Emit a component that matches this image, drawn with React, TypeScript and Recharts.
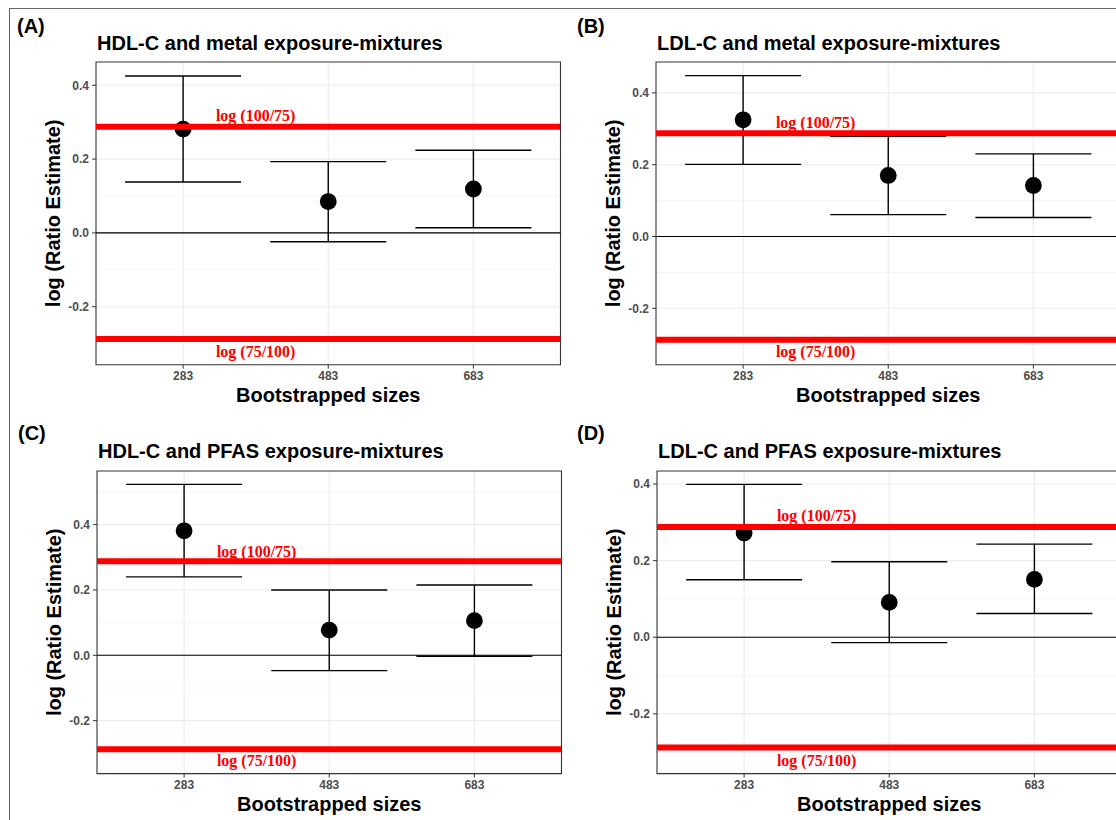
import React from 'react';
import {
  ComposedChart,
  Scatter,
  ErrorBar,
  XAxis,
  YAxis,
  CartesianGrid,
  ReferenceLine,
  ReferenceArea,
  ReferenceDot,
} from 'recharts';

// bootstrapped sample sizes (x categories)
const SIZES = ['283', '483', '683'];

// (A) HDL-C and metal exposure-mixtures
const A_EST = [0.281, 0.085, 0.119];
const A_LO = [0.138, -0.024, 0.014];
const A_HI = [0.425, 0.193, 0.224];

// (B) LDL-C and metal exposure-mixtures
const B_EST = [0.325, 0.17, 0.142];
const B_LO = [0.201, 0.061, 0.053];
const B_HI = [0.448, 0.279, 0.23];

// (C) HDL-C and PFAS exposure-mixtures
const C_EST = [0.381, 0.077, 0.106];
const C_LO = [0.24, -0.047, -0.003];
const C_HI = [0.523, 0.2, 0.215];

// (D) LDL-C and PFAS exposure-mixtures
const D_EST = [0.272, 0.091, 0.151];
const D_LO = [0.15, -0.014, 0.062];
const D_HI = [0.399, 0.197, 0.243];

// equivalence bounds and their labels
const LOG_UPPER = 0.2877;
const LOG_LOWER = -0.2877;
const UPPER_LABEL = 'log (100/75)';
const LOWER_LABEL = 'log (75/100)';
const LABEL_X = 1.5;
const LABEL_UPPER_Y = 0.319;
const LABEL_LOWER_Y = -0.321;

const X_DOMAIN = [0.4, 3.6];
const Y_TICKS = [-0.2, 0, 0.2, 0.4];
const MINOR_A = [-0.3, -0.1, 0.1, 0.3];
const MINOR_C = [-0.3, -0.1, 0.1, 0.3, 0.5];

const SANS = '"Liberation Sans", Arial, sans-serif';
const SERIF = '"Liberation Serif", "Times New Roman", serif';

const build = (est: number[], lo: number[], hi: number[]) =>
  est.map((e, i) => ({ x: i + 1, est: e, lo: lo[i], hi: hi[i] }));

// bound lines drawn as a 2-point series across the panel so they sit above the points
const bound = (y: number) => X_DOMAIN.map((x) => ({ x, est: y }));

const panels = [
  { tag: '(A)', title: 'HDL-C and metal exposure-mixtures', data: build(A_EST, A_LO, A_HI), domain: [-0.357, 0.463], minor: MINOR_A, left: 96, top: 62.3, w: 464.5, h: 302.7, tagX: 17, tagY: 32.5, titleY: 50 },
  { tag: '(B)', title: 'LDL-C and metal exposure-mixtures', data: build(B_EST, B_LO, B_HI), domain: [-0.357, 0.486], minor: MINOR_A, left: 656, top: 62.3, w: 464.5, h: 302.7, tagX: 577, tagY: 32.5, titleY: 50 },
  { tag: '(C)', title: 'HDL-C and PFAS exposure-mixtures', data: build(C_EST, C_LO, C_HI), domain: [-0.362, 0.564], minor: MINOR_C, left: 97, top: 470.7, w: 464.5, h: 302.6, tagX: 18, tagY: 439.5, titleY: 457.7 },
  { tag: '(D)', title: 'LDL-C and PFAS exposure-mixtures', data: build(D_EST, D_LO, D_HI), domain: [-0.356, 0.434], minor: MINOR_A, left: 657, top: 470.7, w: 464.5, h: 302.6, tagX: 577, tagY: 439.5, titleY: 457.7 },
];

const Y_AXIS_W = 86;
const X_AXIS_H = 61;
const M = { top: 7, right: 10, bottom: 2, left: 0 };

const tickStyle = { fontSize: 12, fontWeight: 'bold', fill: '#4D4D4D', fontFamily: SANS } as any;

const Dot = (props: any) => <circle cx={props.cx} cy={props.cy} r={8.4} fill="#000" />;
const NoDot = () => <g />;

function Panel({ p }: { p: (typeof panels)[number] }) {
  const width = Y_AXIS_W + p.w + M.right;
  const height = M.top + p.h + X_AXIS_H + M.bottom;
  return (
    <div style={{ position: 'absolute', left: p.left - Y_AXIS_W, top: p.top - M.top }}>
      <ComposedChart width={width} height={height} data={p.data} margin={M}>
        <CartesianGrid horizontalValues={p.minor} vertical={false} stroke="#F2F2F2" strokeWidth={0.7} />
        <CartesianGrid horizontalValues={Y_TICKS} verticalValues={[1, 2, 3]} stroke="#EBEBEB" strokeWidth={1.1} />
        <XAxis
          type="number"
          dataKey="x"
          domain={X_DOMAIN}
          ticks={[1, 2, 3]}
          allowDataOverflow
          tickFormatter={(v: number) => SIZES[v - 1]}
          tick={tickStyle}
          tickSize={4}
          tickMargin={3}
          tickLine={{ stroke: '#333' }}
          axisLine={false}
          height={X_AXIS_H}
          label={{ value: 'Bootstrapped sizes', position: 'center', fontSize: 20, fontWeight: 'bold', fill: '#000', fontFamily: SANS }}
        />
        <YAxis
          type="number"
          dataKey="est"
          domain={p.domain}
          ticks={Y_TICKS}
          allowDataOverflow
          tickFormatter={(v: number) => v.toFixed(1)}
          tick={tickStyle}
          tickSize={4}
          tickMargin={3}
          tickLine={{ stroke: '#333' }}
          axisLine={false}
          width={Y_AXIS_W}
          label={{ value: 'log (Ratio Estimate)', position: 'center', angle: -90, fontSize: 20, fontWeight: 'bold', fill: '#000', fontFamily: SANS }}
        />
        <ReferenceLine y={0} stroke="#000" strokeWidth={1.1} />
        <Scatter dataKey="est" shape={Dot} isAnimationActive={false}>
          <ErrorBar
            dataKey={(d: any) => [d.est - d.lo, d.hi - d.est]}
            direction="y"
            width={58}
            stroke="#000"
            strokeWidth={1.4}
            isAnimationActive={false}
          />
        </Scatter>
        <Scatter data={bound(LOG_UPPER)} dataKey="est" shape={NoDot} line={{ stroke: '#FF0000', strokeWidth: 6 }} isAnimationActive={false} />
        <Scatter data={bound(LOG_LOWER)} dataKey="est" shape={NoDot} line={{ stroke: '#FF0000', strokeWidth: 6 }} isAnimationActive={false} />
        <ReferenceDot
          x={LABEL_X}
          y={LABEL_UPPER_Y}
          r={0}
          fill="none"
          stroke="none"
          label={{ value: UPPER_LABEL, position: 'center', fill: '#FF0000', fontSize: 16, fontWeight: 'bold', fontFamily: SERIF }}
        />
        <ReferenceDot
          x={LABEL_X}
          y={LABEL_LOWER_Y}
          r={0}
          fill="none"
          stroke="none"
          label={{ value: LOWER_LABEL, position: 'center', fill: '#FF0000', fontSize: 16, fontWeight: 'bold', fontFamily: SERIF }}
        />
        <ReferenceArea
          x1={X_DOMAIN[0]}
          x2={X_DOMAIN[1]}
          y1={p.domain[0]}
          y2={p.domain[1]}
          ifOverflow="visible"
          fill="none"
          fillOpacity={0}
          stroke="#333"
          strokeWidth={1.1}
        />
      </ComposedChart>
    </div>
  );
}

export default function App() {
  return (
    <div style={{ position: 'absolute', left: 0, top: 0, width: 1116, height: 820, overflow: 'hidden', background: '#fff' }}>
      <div style={{ position: 'absolute', left: 9, top: 7.5, width: 1200, height: 900, border: '1.5px solid #666' }} />
      {panels.map((p) => (
        <Panel key={p.tag} p={p} />
      ))}
      <svg width={1116} height={820} style={{ position: 'absolute', left: 0, top: 0, pointerEvents: 'none' }}>
        {panels.map((p) => (
          <g key={p.tag} fontFamily={SANS} fontWeight="bold" fill="#000">
            <text x={p.tagX} y={p.tagY} fontSize={20}>{p.tag}</text>
            <text x={p.left + 1} y={p.titleY} fontSize={20}>{p.title}</text>
          </g>
        ))}
      </svg>
    </div>
  );
}
